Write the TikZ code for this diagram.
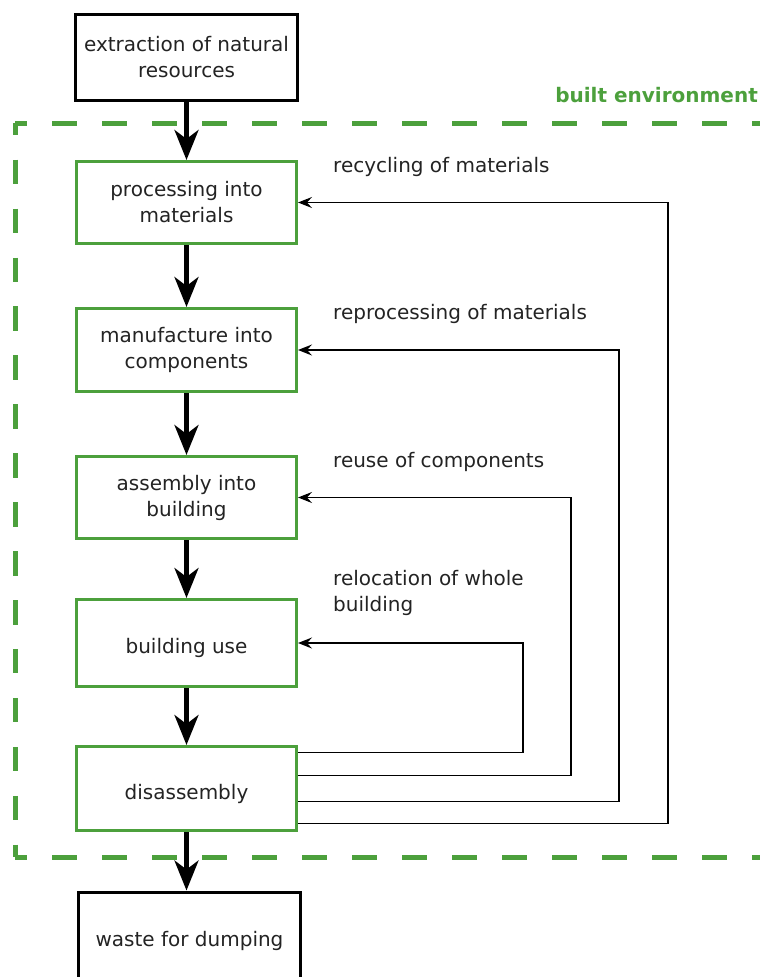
\documentclass[tikz,border=0pt]{standalone}
\usepackage{fontspec}
\setmainfont{DejaVu Sans}
\usetikzlibrary{arrows.meta}
\definecolor{envgreen}{RGB}{76,160,60}
\definecolor{txtgray}{RGB}{35,35,35}

\begin{document}
\begin{tikzpicture}[x=1pt,y=-1pt,
	every node/.style={font=\fontsize{20}{26}\selectfont, text=txtgray, inner sep=0pt},
	outbox/.style={draw=black, line width=3pt, minimum width=222pt, align=center},
	envbox/.style={draw=envgreen, line width=3pt, minimum width=220pt, align=center},
	envline/.style={envgreen, line width=5pt, dash pattern=on 25pt off 25pt, dash phase=13pt},
	flow/.style={line width=4.5pt, -{Stealth[length=30pt,width=24pt,inset=9pt]}},
	backflow/.style={line width=1.7pt, -{Stealth[length=14pt,width=11pt,inset=5pt]}}]
	
	\useasboundingbox (0,0) rectangle (760,977);
	
	% built environment frame
	\draw[envline] (15,123) -- (775,123);
	\draw[envline] (15,857) -- (775,857);
	\draw[envline, dash pattern=on 24.5pt off 24.43pt, dash phase=12.25pt] (15,123) -- (15,857);
	\node[anchor=east, text=envgreen, font=\fontsize{20}{26}\selectfont\bfseries] (envlabel) at (758,95) {built environment};
	
	% stages
	\node[outbox, minimum height=86pt] (extract) at (186.5,57.5) {extraction of natural\\resources};
	\node[envbox, minimum height=82pt] (process) at (186.5,202.5) {processing into\\materials};
	\node[envbox, minimum height=83pt] (manufacture) at (186.5,350) {manufacture into\\components};
	\node[envbox, minimum height=82pt] (assembly) at (186.5,497.5) {assembly into\\building};
	\node[envbox, minimum height=87pt] (use) at (186.5,643) {\mbox{}\\building use};
	\node[envbox, minimum height=84pt] (dis) at (186.5,788.5) {\mbox{}\\disassembly};
	\node[outbox, minimum height=88pt] (waste) at (189.5,936) {\mbox{}\\waste for dumping};
	
	% main flow
	\draw[flow] (extract) -- (process);
	\draw[flow] (process) -- (manufacture);
	\draw[flow] (manufacture) -- (assembly);
	\draw[flow] (assembly) -- (use);
	\draw[flow] (use) -- (dis);
	\draw[flow] (dis.south) -- (dis.south |- waste.north);
	
	% loops back
	\draw[backflow] ([yshift=36pt]dis.east) -- ++(225,0) |- (use.east);
	\draw[backflow] ([yshift=13pt]dis.east) -- ++(273,0) |- (assembly.east);
	\draw[backflow] ([yshift=-13pt]dis.east) -- ++(321,0) |- (manufacture.east);
	\draw[backflow] ([yshift=-35pt]dis.east) -- ++(370,0) |- (process.east);
	
	% labels
	\node[anchor=west] (recycle) at (333,167) {recycling of materials};
	\node[anchor=west] (reprocess) at (333,314) {reprocessing of materials};
	\node[anchor=west] (reuse) at (333,462) {reuse of components};
	\node[anchor=west, align=left] (relocate) at (333,593) {relocation of whole\\building};
	
\end{tikzpicture}
\end{document}
